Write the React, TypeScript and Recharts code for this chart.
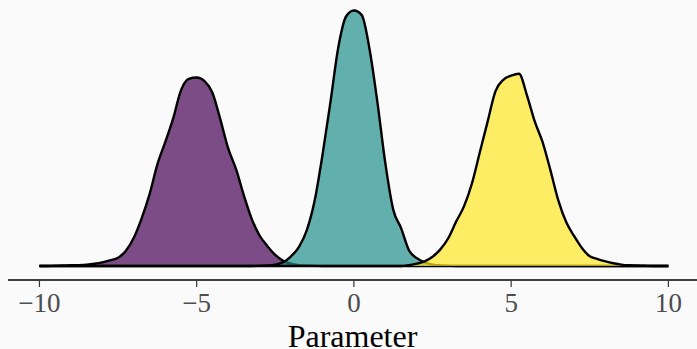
import React from 'react';
import { ComposedChart, Area, XAxis, YAxis } from 'recharts';

const xGrid = [
  -10, -9.75, -9.5, -9.25, -9, -8.75, -8.5, -8.25, -8, -7.75,
  -7.5, -7.25, -7, -6.75, -6.5, -6.25, -6, -5.75, -5.5, -5.25,
  -5, -4.75, -4.5, -4.25, -4, -3.75, -3.5, -3.25, -3, -2.75,
  -2.5, -2.25, -2, -1.75, -1.5, -1.25, -1, -0.75, -0.5, -0.25,
  0, 0.25, 0.5, 0.75, 1, 1.25, 1.5, 1.75, 2, 2.25,
  2.5, 2.75, 3, 3.25, 3.5, 3.75, 4, 4.25, 4.5, 4.75,
  5, 5.25, 5.5, 5.75, 6, 6.25, 6.5, 6.75, 7, 7.25,
  7.5, 7.75, 8, 8.25, 8.5, 8.75, 9, 9.25, 9.5, 9.75,
  10,
];

const purple = [
  0, 0, 0.0005, 0.001, 0.0015, 0.002, 0.003, 0.005, 0.008, 0.012,
  0.018, 0.033, 0.061, 0.103, 0.155, 0.22, 0.268, 0.319, 0.38, 0.405,
  0.408, 0.4, 0.375, 0.318, 0.255, 0.21, 0.153, 0.102, 0.066, 0.043,
  0.024, 0.011, 0.005, 0.002, 0.001, 0.0005, 0, 0, 0, 0,
  0, 0, 0, 0, 0, 0, 0, 0, 0, 0,
  0, 0, 0, 0, 0, 0, 0, 0, 0, 0,
  0, 0, 0, 0, 0, 0, 0, 0, 0, 0,
  0, 0, 0, 0, 0, 0, 0, 0, 0, 0,
  0,
];

const teal = [
  0, 0, 0, 0, 0, 0, 0, 0, 0, 0,
  0, 0, 0, 0, 0, 0, 0, 0, 0, 0,
  0, 0, 0, 0, 0, 0, 0, 0, 0.0005, 0.001,
  0.003, 0.008, 0.021, 0.041, 0.077, 0.141, 0.24, 0.353, 0.472, 0.54,
  0.553, 0.543, 0.468, 0.353, 0.222, 0.122, 0.082, 0.034, 0.017, 0.008,
  0.003, 0.001, 0.0005, 0, 0, 0, 0, 0, 0, 0,
  0, 0, 0, 0, 0, 0, 0, 0, 0, 0,
  0, 0, 0, 0, 0, 0, 0, 0, 0, 0,
  0,
];

const yellow = [
  0, 0, 0, 0, 0, 0, 0, 0, 0, 0,
  0, 0, 0, 0, 0, 0, 0, 0, 0, 0,
  0, 0, 0, 0, 0, 0, 0, 0, 0, 0,
  0, 0, 0, 0, 0, 0, 0, 0, 0, 0,
  0, 0, 0, 0, 0, 0, 0, 0.002, 0.005, 0.01,
  0.02, 0.036, 0.06, 0.096, 0.129, 0.178, 0.245, 0.312, 0.378, 0.403,
  0.412, 0.416, 0.37, 0.313, 0.268, 0.207, 0.142, 0.095, 0.065, 0.039,
  0.021, 0.015, 0.01, 0.006, 0.003, 0.0015, 0.001, 0.0005, 0, 0,
  0,
];

const xTicks = [-10, -5, 0, 5, 10];
const xLabel = 'Parameter';

const data = xGrid.map((x, i) => ({ x, a: purple[i], b: teal[i], c: yellow[i] }));

const fmt = (v: number) => (v < 0 ? '\u2212' + Math.abs(v) : String(v));

const font = 'Liberation Serif, Times New Roman, serif';

export default function App() {
  return (
    <div style={{ position: 'absolute', left: 0, top: 0, width: 697, height: 349, background: '#fafafa', overflow: 'hidden' }}>
      <ComposedChart width={697} height={349} data={data} margin={{ top: 2, right: 0, bottom: 0, left: 8 }}>
        <XAxis
          dataKey="x"
          type="number"
          domain={[-11, 10.91]}
          allowDataOverflow
          ticks={xTicks}
          interval={0}
          tickFormatter={fmt}
          height={69}
          tickSize={7}
          tickMargin={6}
          axisLine={{ stroke: '#000', strokeWidth: 1.5 }}
          tickLine={{ stroke: '#333', strokeWidth: 1.2 }}
          tick={{ fill: '#4d4d4d', fontSize: 27, fontFamily: font }}
          label={{ value: xLabel, position: 'insideBottom', offset: 2, fill: '#000', fontSize: 32, fontFamily: font }}
        />
        <YAxis hide type="number" domain={[-0.0303, 0.5714]} allowDataOverflow />
        <Area dataKey="a" type="monotone" fill="#440154" fillOpacity={0.7} stroke="#000" strokeWidth={2.4} dot={false} activeDot={false} isAnimationActive={false} />
        <Area dataKey="b" type="monotone" fill="#21908c" fillOpacity={0.7} stroke="#000" strokeWidth={2.4} dot={false} activeDot={false} isAnimationActive={false} />
        <Area dataKey="c" type="monotone" fill="#fde725" fillOpacity={0.7} stroke="#000" strokeWidth={2.4} dot={false} activeDot={false} isAnimationActive={false} />
      </ComposedChart>
    </div>
  );
}
